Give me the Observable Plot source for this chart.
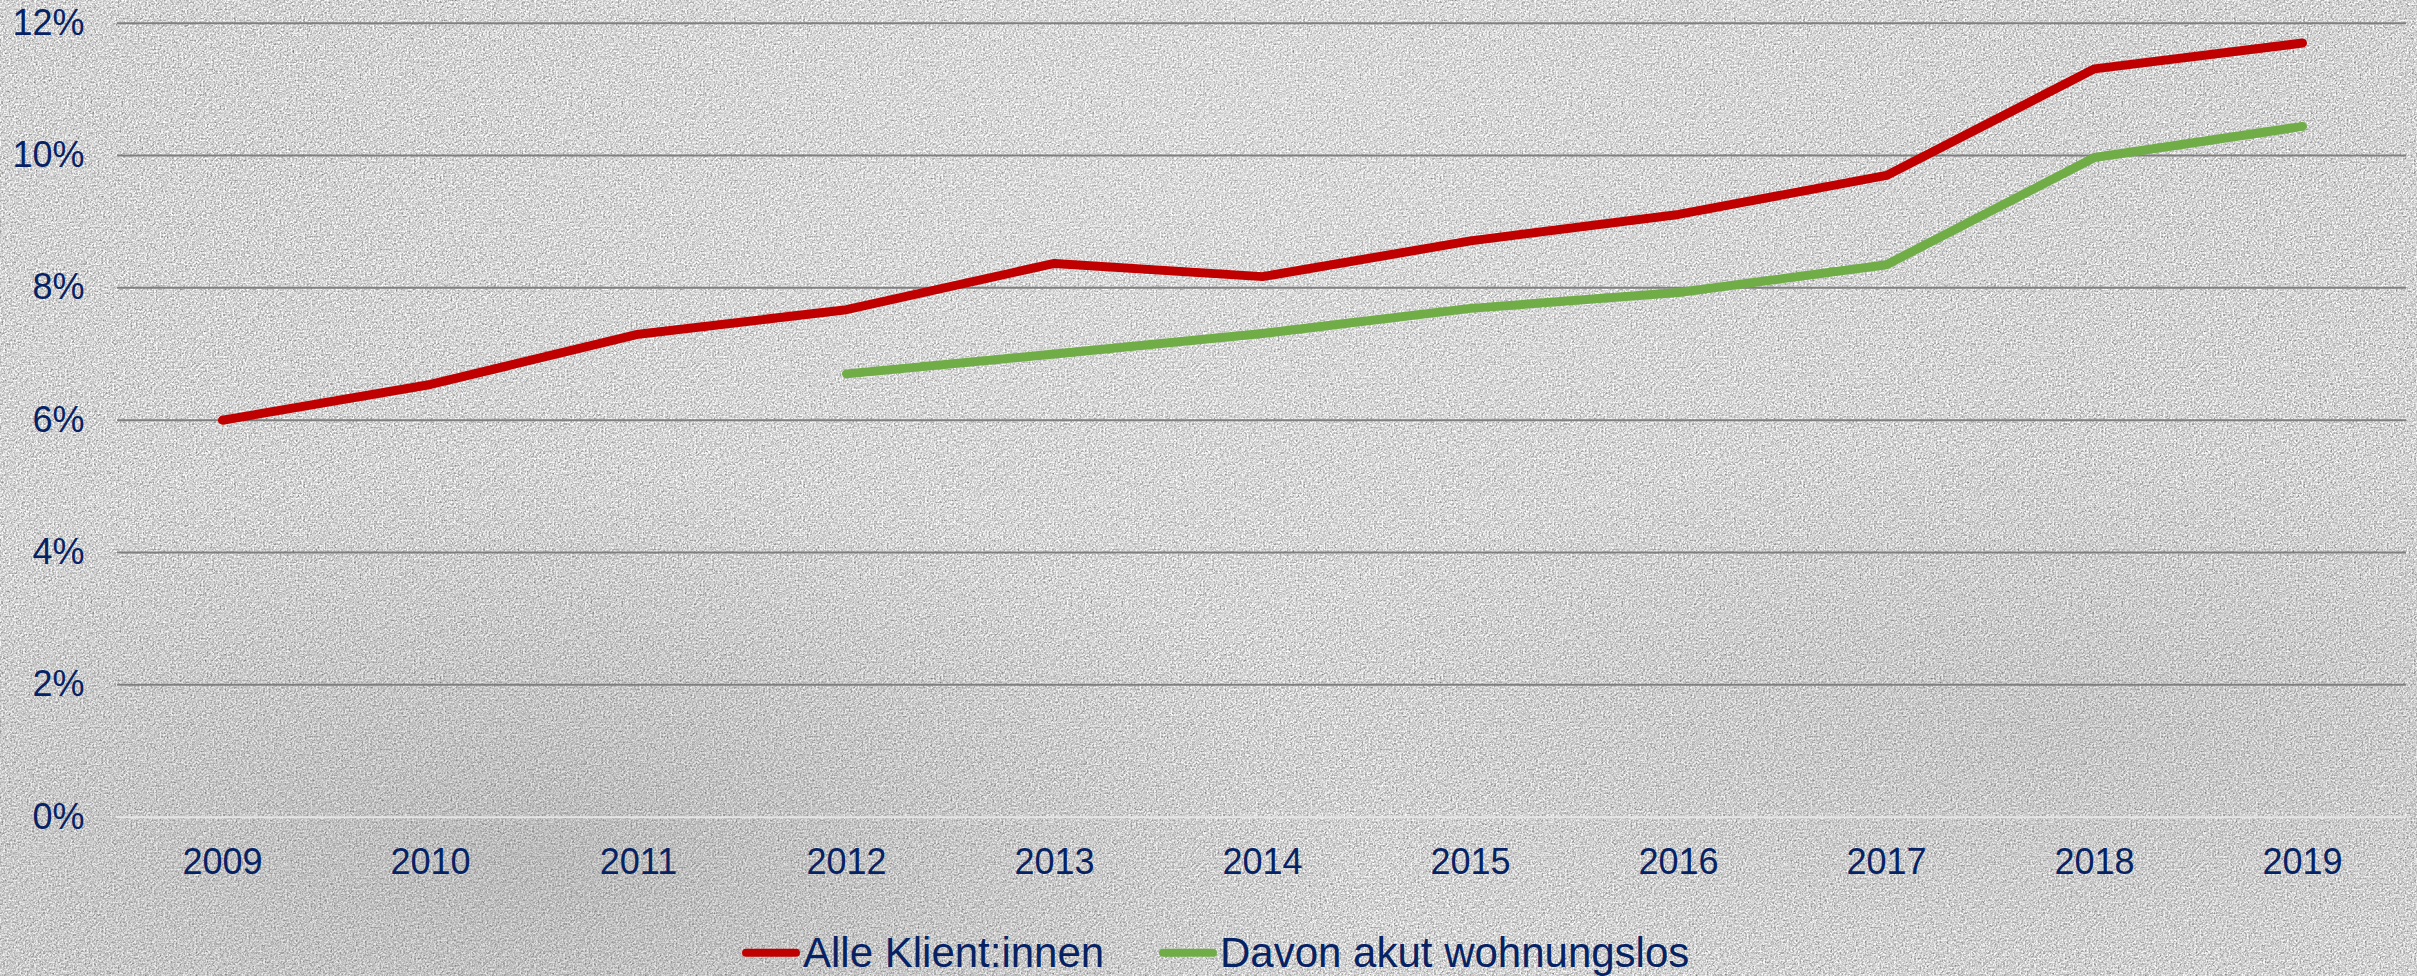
<!DOCTYPE html>
<html>
<head>
<meta charset="utf-8">
<script src="https://cdn.jsdelivr.net/npm/d3@7"></script>
<script src="https://cdn.jsdelivr.net/npm/@observablehq/plot@0.6"></script>
<style>
  html, body { margin: 0; padding: 0; }
  body {
    width: 2417px; height: 976px; overflow: hidden; position: relative;
    background-color: #d3d3d3;
    background-image:
      radial-gradient(ellipse at 22% 88%, rgba(100,100,100,0.22), rgba(100,100,100,0) 32%),
      radial-gradient(ellipse at 85% 75%, rgba(120,120,120,0.15), rgba(120,120,120,0) 28%),
      radial-gradient(ellipse at 50% 15%, rgba(255,255,255,0.15), rgba(255,255,255,0) 55%),
      url("data:image/svg+xml;utf8,<svg xmlns='http://www.w3.org/2000/svg' width='500' height='500'><filter id='n' color-interpolation-filters='sRGB'><feTurbulence type='fractalNoise' baseFrequency='0.55' numOctaves='3' stitchTiles='stitch'/><feColorMatrix type='matrix' values='0.45 0.45 0.45 0 0.15  0.45 0.45 0.45 0 0.15  0.45 0.45 0.45 0 0.15  0 0 0 0 1'/></filter><rect width='500' height='500' filter='url(%23n)'/></svg>");
    font-family: "Liberation Sans", Arial, sans-serif;
  }
  #chart { position: absolute; left: 0; top: 0; }
  #legend { position: absolute; left: 0; top: 905px; }
</style>
</head>
<body>
<div id="chart"></div>
<svg id="legend" width="2417" height="71"></svg>
<script>
// ---- data ----
const years = ["2009","2010","2011","2012","2013","2014","2015","2016","2017","2018","2019"];
const alleKlientinnen = [6.00, 6.54, 7.30, 7.67, 8.37, 8.17, 8.71, 9.11, 9.70, 11.31, 11.70];
const akutWohnungslos = [null, null, null, 6.70, 7.00, 7.31, 7.69, 7.93, 8.35, 9.97, 10.44];
const yTicks = [0, 2, 4, 6, 8, 10, 12];
const seriesNames = ["Alle Klient:innen", "Davon akut wohnungslos"];
const seriesColors = ["#C00000", "#70AD47"];

const red = years.map((y, i) => ({year: y, value: alleKlientinnen[i]}));
const green = years.map((y, i) => ({year: y, value: akutWohnungslos[i]})).filter(d => d.value != null);

const textColor = "#072263";

const plot = Plot.plot({
  width: 2417,
  height: 905,
  marginLeft: 117,
  marginRight: 11,
  marginTop: 22.7,
  marginBottom: 88.3,
  style: {background: "transparent", fontFamily: "'Liberation Sans', Arial, sans-serif", color: textColor, overflow: "visible"},
  x: {type: "band", domain: years, padding: 0, label: null},
  y: {domain: [0, 12], label: null},
  marks: [
    Plot.ruleY(yTicks.filter(t => t > 0), {stroke: "#7f7f7f", strokeWidth: 2}),
    Plot.ruleY([0], {stroke: "#e6e6e6", strokeWidth: 2}),
    Plot.axisY({ticks: yTicks, tickFormat: d => d + "%", tickSize: 0, tickPadding: 33, fontSize: 36, fill: textColor, label: null}),
    Plot.axisX({tickSize: 0, tickPadding: 31, fontSize: 36, fill: textColor, label: null}),
    Plot.line(red, {x: "year", y: "value", stroke: seriesColors[0], strokeWidth: 9, strokeLinecap: "round", strokeLinejoin: "round"}),
    Plot.line(green, {x: "year", y: "value", stroke: seriesColors[1], strokeWidth: 9, strokeLinecap: "round", strokeLinejoin: "round"})
  ]
});
document.getElementById("chart").appendChild(plot);

// ---- legend ----
const legend = d3.select("#legend");
const items = [
  {name: seriesNames[0], color: seriesColors[0], x0: 746},
  {name: seriesNames[1], color: seriesColors[1], x0: 1163}
];
items.forEach(it => {
  legend.append("line")
    .attr("x1", it.x0).attr("x2", it.x0 + 50)
    .attr("y1", 47.7).attr("y2", 47.7)
    .attr("stroke", it.color).attr("stroke-width", 8).attr("stroke-linecap", "round");
  legend.append("text")
    .attr("x", it.x0 + 57).attr("y", 61.7)
    .attr("font-size", 42)
    .attr("font-family", "'Liberation Sans', Arial, sans-serif")
    .attr("fill", textColor)
    .text(it.name);
});
</script>
</body>
</html>
